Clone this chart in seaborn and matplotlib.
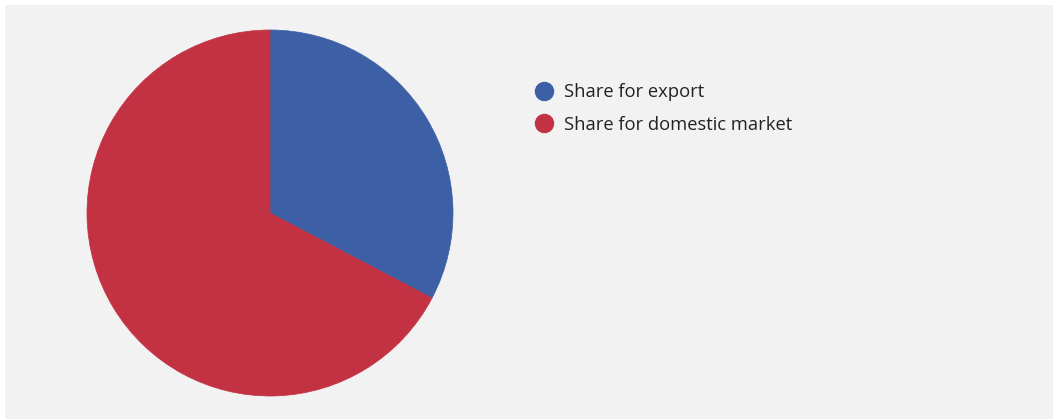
import matplotlib
matplotlib.use("Agg")
import matplotlib.pyplot as plt
from matplotlib.lines import Line2D
from matplotlib.patches import Rectangle
import seaborn as sns

# Shares of output
categories = ["Share for export", "Share for domestic market"]
shares = [32.7, 67.3]
colors = ["#3d5fa6", "#c33242"]

sns.set_theme(style="white")
plt.rcParams["font.family"] = ["Open Sans", "DejaVu Sans"]

W, H = 1058, 419
fig = plt.figure(figsize=(W / 100, H / 100), dpi=100, facecolor="white")

# light panel behind the chart
fig.patches.append(Rectangle((5 / W, 0), (1053 - 5) / W, (H - 5) / H,
                             transform=fig.transFigure, facecolor="#f2f2f2",
                             edgecolor="none", zorder=-1))

cx, cy, r = 270, 213, 183
ax = fig.add_axes([(cx - r) / W, (H - cy - r) / H, 2 * r / W, 2 * r / H])
ax.set_facecolor("none")
wedges, _ = ax.pie(shares, colors=colors, startangle=90, counterclock=False,
                   radius=1, wedgeprops=dict(linewidth=0.5))
for w in wedges:
    w.set_edgecolor(w.get_facecolor())
ax.set_xlim(-1, 1)
ax.set_ylim(-1, 1)
ax.set_aspect("equal")
ax.axis("off")

handles = [Line2D([], [], linestyle="none", marker="o", markersize=13,
                  markerfacecolor=c, markeredgecolor=c) for c in colors]
fig.legend(handles, categories, loc="upper left",
           bbox_to_anchor=(525 / W, (H - 74) / H), frameon=False,
           fontsize=13.2, handletextpad=0.5, labelspacing=0.8,
           borderpad=0, handlelength=1.1, labelcolor="#222222")

fig.savefig("out.png", dpi=100, facecolor="white")
